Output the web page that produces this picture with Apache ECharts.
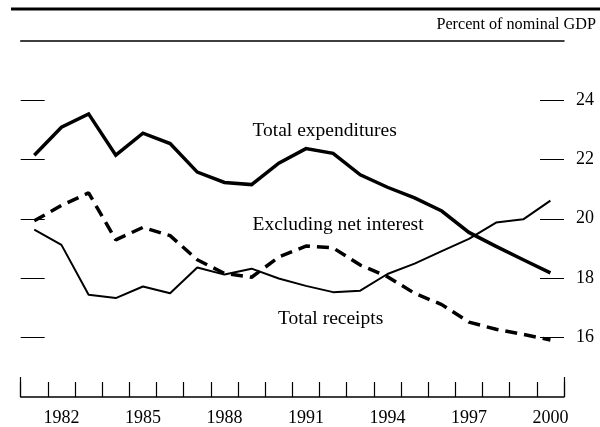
<!DOCTYPE html>
<html>
<head>
<meta charset="utf-8">
<script src="https://cdn.jsdelivr.net/npm/echarts@6/dist/echarts.min.js"></script>
<style>
html,body{margin:0;padding:0;background:#fff;}
#chart{width:600px;height:427px;}
</style>
</head>
<body>
<div id="chart"></div>
<script>
const years = ['1981','1982','1983','1984','1985','1986','1987','1988','1989','1990',
               '1991','1992','1993','1994','1995','1996','1997','1998','1999','2000'];
const totalExpenditures = [22.14, 23.08, 23.53, 22.14, 22.88, 22.53, 21.57, 21.22, 21.15, 21.87,
                           22.36, 22.20, 21.48, 21.06, 20.70, 20.26, 19.54, 19.07, 18.62, 18.18];
const excludingNetInterest = [19.93, 20.45, 20.87, 19.29, 19.71, 19.43, 18.62, 18.16, 18.03, 18.71,
                              19.08, 19.02, 18.44, 18.05, 17.49, 17.11, 16.52, 16.28, 16.11, 15.92];
const totalReceipts = [19.63, 19.12, 17.44, 17.33, 17.72, 17.49, 18.36, 18.12, 18.32, 17.99,
                       17.74, 17.53, 17.58, 18.14, 18.49, 18.91, 19.32, 19.87, 19.98, 20.61];
const yTicks = [16, 18, 20, 22, 24];
const unitLabel = 'Percent of nominal GDP';
const seriesLabels = ['Total expenditures', 'Excluding net interest', 'Total receipts'];

const FONT = '"Liberation Serif", "Times New Roman", serif';
const chart = echarts.init(document.getElementById('chart'), null, {renderer: 'canvas'});

function yAxisDef(pos, showLabel) {
  return {
    type: 'value', min: 14, max: 26, interval: 2, position: pos,
    axisLine: {show: false, onZero: false},
    splitLine: {show: false},
    axisTick: {show: true, inside: true, length: 24, customValues: yTicks,
               lineStyle: {color: '#000', width: 1}},
    axisLabel: showLabel ? {
      show: true, inside: false, margin: 12, fontFamily: FONT, fontSize: 18, color: '#000',
      customValues: yTicks
    } : {show: false}
  };
}

chart.setOption({
  animation: false,
  backgroundColor: '#fff',
  grid: {left: 20.7, right: 36, top: 40.5, bottom: 25, containLabel: false},
  xAxis: [
    {
      type: 'category', data: years, position: 'bottom', boundaryGap: true,
      axisLine: {show: true, onZero: false, lineStyle: {color: '#000', width: 1.5}},
      axisTick: {show: true, inside: true, length: 15, interval: 0, lineStyle: {color: '#000', width: 1.2}},
      axisLabel: {
        show: true, margin: 12,
        interval: function (i) { return (i - 1) % 3 === 0; },
        fontFamily: FONT, fontSize: 18, color: '#000'
      },
      splitLine: {show: false}
    },
    {
      type: 'value', min: 0, max: 1, interval: 1, position: 'bottom',
      axisLine: {show: false, onZero: false},
      axisTick: {show: true, inside: true, length: 20, lineStyle: {color: '#000', width: 1.2}},
      axisLabel: {show: false},
      splitLine: {show: false}
    },
    {
      type: 'value', min: 0, max: 1, position: 'top',
      axisLine: {show: true, onZero: false, lineStyle: {color: '#000', width: 1.5}},
      axisTick: {show: false},
      axisLabel: {show: false},
      splitLine: {show: false}
    }
  ],
  yAxis: [yAxisDef('left', false), yAxisDef('right', true)],
  series: [
    {
      name: seriesLabels[0], type: 'line', data: totalExpenditures,
      xAxisIndex: 0, yAxisIndex: 0, symbol: 'none', silent: true,
      lineStyle: {color: '#000', width: 3.5, join: 'miter'}
    },
    {
      name: seriesLabels[1], type: 'line', data: excludingNetInterest,
      xAxisIndex: 0, yAxisIndex: 0, symbol: 'none', silent: true,
      lineStyle: {color: '#000', width: 3.5, type: [12, 7]}
    },
    {
      name: seriesLabels[2], type: 'line', data: totalReceipts,
      xAxisIndex: 0, yAxisIndex: 0, symbol: 'none', silent: true,
      lineStyle: {color: '#000', width: 2}
    }
  ],
  graphic: [
    {type: 'rect', shape: {x: 11, y: 7.5, width: 589, height: 3}, style: {fill: '#000'}, silent: true},
    {type: 'text', x: 596, y: 25, style: {text: unitLabel, font: '16.2px ' + FONT, fill: '#000', align: 'right', verticalAlign: 'middle'}},
    {type: 'text', x: 252.5, y: 131, style: {text: seriesLabels[0], font: '19.5px ' + FONT, fill: '#000', align: 'left', verticalAlign: 'middle'}},
    {type: 'text', x: 252.5, y: 224.5, style: {text: seriesLabels[1], font: '19.5px ' + FONT, fill: '#000', align: 'left', verticalAlign: 'middle'}},
    {type: 'text', x: 278, y: 318.5, style: {text: seriesLabels[2], font: '19.5px ' + FONT, fill: '#000', align: 'left', verticalAlign: 'middle'}}
  ]
});
</script>
</body>
</html>
